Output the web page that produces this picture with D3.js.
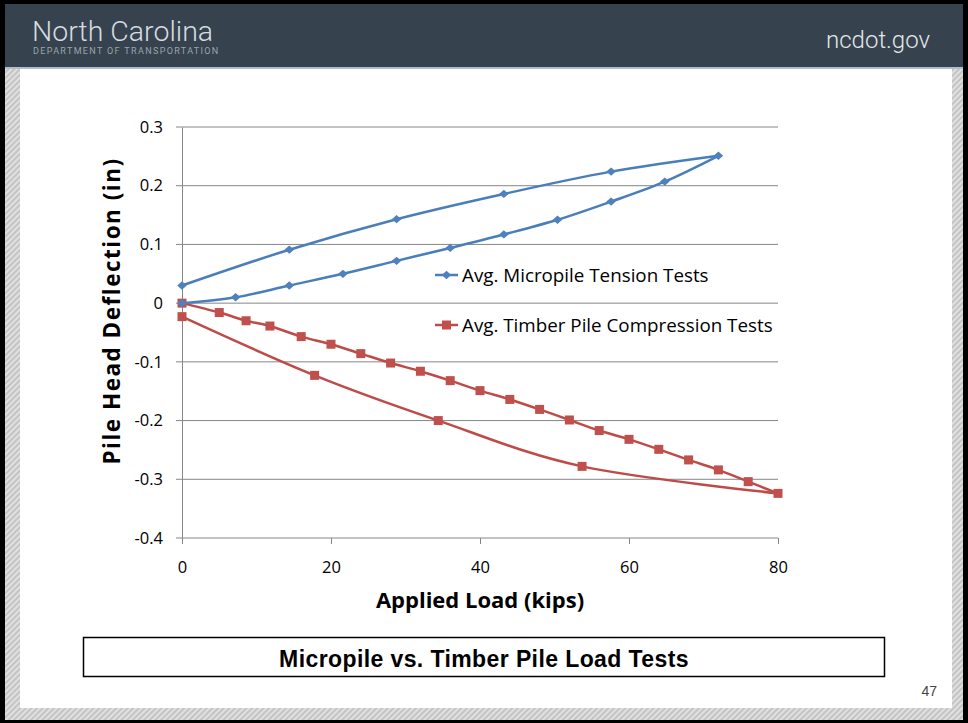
<!DOCTYPE html>
<html>
<head>
<meta charset="utf-8">
<script src="https://cdn.jsdelivr.net/npm/d3@7"></script>
<style>
  html, body { margin: 0; padding: 0; background: #000; }
  svg { display: block; }
</style>
</head>
<body>
<script>
// values (load in kips, deflection in inches)
var microLoad = [0, 7.2, 14.4, 21.6, 28.8, 36, 43.2, 50.4, 57.6, 64.8, 72, 57.6, 43.2, 28.8, 14.4, 0];
var microDefl = [0, 0.010, 0.030, 0.050, 0.072, 0.094, 0.117, 0.142, 0.173, 0.207, 0.251, 0.224, 0.186, 0.143, 0.091, 0.030];
var timberLoad = [0, 5, 8.6, 11.8, 16, 20, 24, 28, 32, 36, 40, 44, 48, 52, 56, 60, 64, 68, 72, 76, 80, 53.7, 34.4, 17.8, 0];
var timberDefl = [0, -0.016, -0.030, -0.039, -0.057, -0.070, -0.086, -0.102, -0.116, -0.132, -0.149, -0.164, -0.181, -0.199, -0.217, -0.232, -0.249, -0.267, -0.284, -0.304, -0.324, -0.278, -0.200, -0.123, -0.023];
var xTicks = [0, 20, 40, 60, 80];
var yTicks = [0.3, 0.2, 0.1, 0, -0.1, -0.2, -0.3, -0.4];
var seriesNames = ["Avg. Micropile Tension Tests", "Avg. Timber Pile Compression Tests"];

var width = 968, height = 723;
var svg = d3.select("body").append("svg")
  .attr("width", width)
  .attr("height", height);

// slide frame
var defs = svg.append("defs");
var pat = defs.append("pattern")
  .attr("id", "hatch")
  .attr("width", 4)
  .attr("height", 4)
  .attr("patternUnits", "userSpaceOnUse")
  .attr("patternTransform", "rotate(45)");
pat.append("rect").attr("width", 4).attr("height", 4).attr("fill", "#c4c4c4");
pat.append("rect").attr("width", 2).attr("height", 4).attr("fill", "#e0e0e0");

svg.append("rect").attr("width", width).attr("height", height).attr("fill", "#000");
svg.append("rect")
  .attr("x", 5).attr("y", 4).attr("width", 958).attr("height", 716)
  .attr("fill", "url(#hatch)");
svg.append("rect")
  .attr("x", 20).attr("y", 68).attr("width", 932).attr("height", 640)
  .attr("fill", "#fff");

// header
svg.append("rect")
  .attr("x", 5).attr("y", 4).attr("width", 958).attr("height", 64)
  .attr("fill", "#36424d");
svg.append("rect")
  .attr("x", 5).attr("y", 67).attr("width", 958).attr("height", 2)
  .attr("fill", "#aebfcc");
svg.append("text")
  .attr("x", 32).attr("y", 41)
  .attr("font-family", "Roboto")
  .attr("font-weight", 300)
  .attr("font-size", 28.5)
  .attr("fill", "#d5dbe0")
  .text("North Carolina");
svg.append("text")
  .attr("x", 33).attr("y", 54)
  .attr("font-family", "Roboto")
  .attr("font-size", 9)
  .attr("letter-spacing", 1.35)
  .attr("fill", "#9aa5af")
  .text("DEPARTMENT OF TRANSPORTATION");
svg.append("text")
  .attr("x", 930).attr("y", 48)
  .attr("text-anchor", "end")
  .attr("font-family", "Roboto")
  .attr("font-weight", 300)
  .attr("font-size", 24)
  .attr("fill", "#e3e7ea")
  .text("ncdot.gov");

// chart
var x = d3.scaleLinear().domain([0, 80]).range([182, 778]);
var y = d3.scaleLinear().domain([-0.4, 0.3]).range([538, 127]);
var font = "'Open Sans', sans-serif";

var grid = svg.append("g");
grid.selectAll("line")
  .data(yTicks)
  .enter().append("line")
  .attr("x1", x(0) - 6)
  .attr("x2", x(80))
  .attr("y1", function (d) { return y(d); })
  .attr("y2", function (d) { return y(d); })
  .attr("stroke", "#868686")
  .attr("stroke-width", 1);

var yAxis = svg.append("g")
  .attr("transform", "translate(" + x(0) + ",0)")
  .call(d3.axisLeft(y).tickValues(yTicks).tickSize(0).tickPadding(19)
    .tickFormat(function (d) { return d === 0 ? "0" : d.toFixed(1); }));
yAxis.select(".domain").attr("stroke", "#868686");
yAxis.selectAll("text").attr("font-family", font).attr("font-size", 16.5).attr("fill", "#000");

var xAxis = svg.append("g")
  .attr("transform", "translate(0," + y(-0.4) + ")")
  .call(d3.axisBottom(x).tickValues(xTicks).tickSize(6).tickPadding(17));
xAxis.select(".domain").remove();
xAxis.selectAll("line").attr("stroke", "#868686");
xAxis.selectAll("text").attr("font-family", font).attr("font-size", 16.5).attr("fill", "#000");

svg.append("text")
  .attr("x", 480).attr("y", 608)
  .attr("text-anchor", "middle")
  .attr("font-family", font)
  .attr("font-weight", "bold")
  .attr("font-size", 22)
  .text("Applied Load (kips)");
svg.append("text")
  .attr("transform", "translate(120,311) rotate(-90)")
  .attr("text-anchor", "middle")
  .attr("font-family", font)
  .attr("font-weight", "bold")
  .attr("font-size", 22.5)
  .attr("letter-spacing", 1.5)
  .text("Pile Head Deflection (in)");

var line = d3.line()
  .x(function (d) { return x(d[0]); })
  .y(function (d) { return y(d[1]); })
  .curve(d3.curveCardinal.tension(0));

// draw the loading and unloading branches as separate smooth runs
function branches(pts) {
  var k = d3.maxIndex(pts, function (d) { return d[0]; });
  return [pts.slice(0, k + 1), pts.slice(k)];
}

var blue = "#4a7ebb", blueM = "#4f81bd", red = "#be4b48", redM = "#c0504d";
var micro = d3.zip(microLoad, microDefl);
var timber = d3.zip(timberLoad, timberDefl);

svg.append("g").selectAll("path")
  .data(branches(timber))
  .enter().append("path")
  .attr("d", line)
  .attr("fill", "none").attr("stroke", red).attr("stroke-width", 2.5);
svg.append("g").selectAll("rect")
  .data(timber)
  .enter().append("rect")
  .attr("x", function (d) { return x(d[0]) - 4.5; })
  .attr("y", function (d) { return y(d[1]) - 4.5; })
  .attr("width", 9).attr("height", 9)
  .attr("fill", redM);

svg.append("g").selectAll("path")
  .data(branches(micro))
  .enter().append("path")
  .attr("d", line)
  .attr("fill", "none").attr("stroke", blue).attr("stroke-width", 2.5);
var diamond = d3.symbol().type(d3.symbolDiamond2).size(44);
svg.append("g").selectAll("path")
  .data(micro)
  .enter().append("path")
  .attr("d", diamond)
  .attr("transform", function (d) { return "translate(" + x(d[0]) + "," + y(d[1]) + ") scale(1.15,1)"; })
  .attr("fill", blueM);

// legend
var legend = svg.append("g");
var lg = legend.selectAll("g")
  .data(seriesNames)
  .enter().append("g")
  .attr("transform", function (d, i) { return "translate(435," + (275 + i * 50) + ")"; });
lg.append("line")
  .attr("x1", 0).attr("x2", 23)
  .attr("stroke", function (d, i) { return i ? red : blue; })
  .attr("stroke-width", 2.5);
lg.each(function (d, i) {
  var g = d3.select(this);
  if (i) {
    g.append("rect").attr("x", 7).attr("y", -4.5).attr("width", 9).attr("height", 9).attr("fill", redM);
  } else {
    g.append("path").attr("d", diamond).attr("transform", "translate(11.5,0) scale(1.15,1)").attr("fill", blueM);
  }
});
lg.append("text")
  .attr("x", 27).attr("y", 6.5)
  .attr("font-family", font)
  .attr("font-size", 18.8)
  .attr("fill", "#000")
  .text(function (d) { return d; });

// title box
svg.append("rect")
  .attr("x", 83.5).attr("y", 637.5).attr("width", 801).attr("height", 39)
  .attr("fill", "#fff").attr("stroke", "#000").attr("stroke-width", 1.5);
svg.append("text")
  .attr("x", 484).attr("y", 667)
  .attr("text-anchor", "middle")
  .attr("font-family", "'Liberation Sans', Arial, sans-serif")
  .attr("font-weight", "bold")
  .attr("font-size", 23)
  .attr("letter-spacing", 0.4)
  .text("Micropile vs. Timber Pile Load Tests");
svg.append("text")
  .attr("x", 937).attr("y", 696)
  .attr("text-anchor", "end")
  .attr("font-family", "'Liberation Sans', Arial, sans-serif")
  .attr("font-size", 14)
  .attr("fill", "#444")
  .text("47");
</script>
</body>
</html>
